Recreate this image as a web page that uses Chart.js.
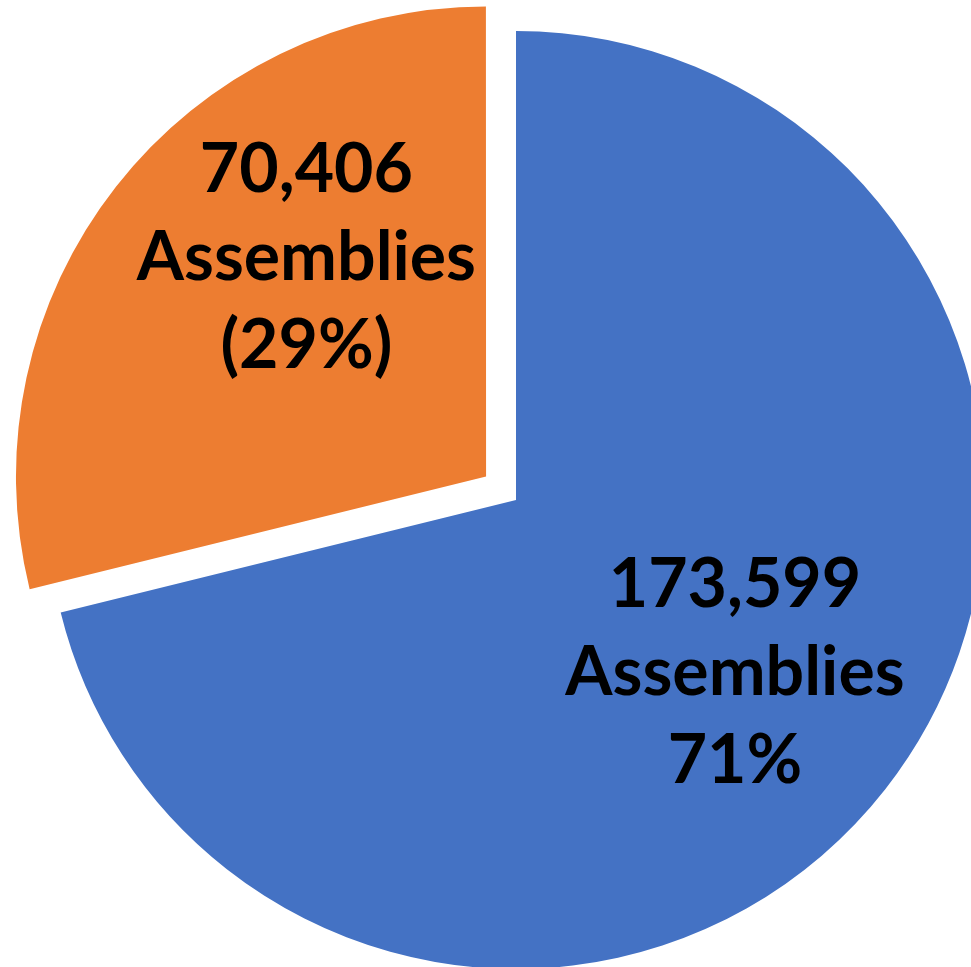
<!DOCTYPE html>
<html>
<head>
<meta charset="utf-8">
<script src="https://cdn.jsdelivr.net/npm/chart.js@4.4.0/dist/chart.umd.min.js"></script>
<style>
	html, body { margin: 0; padding: 0; background: #fff; }
	#wrap { width: 971px; height: 967px; position: relative; }
</style>
</head>
<body>
<div id="wrap"><canvas id="mycanvas"></canvas></div>
<script>
// data
var categories = ['Group A', 'Group B'];
var assemblies = [173599, 70406];
var labelLines = [
	['173,599', 'Assemblies', '71%'],
	['70,406', 'Assemblies', '(29%)']
];
var colors = ['#4472C4', '#ED7D31'];
var explode = [0, 38]; // pixels the slice is pulled out

// label placement (fraction of radius, extra angle in degrees)
var labelRadius = [0.593, 0.607];
var labelShift = [0, 12.8];

var pieLabels = {
	id: 'pieLabels',
	afterDatasetsDraw: function(chart) {
		var ctx = chart.ctx;
		var meta = chart.getDatasetMeta(0);
		ctx.save();
		ctx.fillStyle = '#000';
		ctx.font = 'bold 68px Lato';
		ctx.textAlign = 'center';
		ctx.textBaseline = 'alphabetic';
		meta.data.forEach(function(arc, i) {
			var p = arc.getProps(['x', 'y', 'startAngle', 'endAngle', 'outerRadius']);
			var mid = (p.startAngle + p.endAngle) / 2;
			var cx = p.x + Math.cos(mid) * explode[i];
			var cy = p.y + Math.sin(mid) * explode[i];
			var a = mid + labelShift[i] * Math.PI / 180;
			var r = p.outerRadius * labelRadius[i];
			var lx = cx + Math.cos(a) * r;
			var ly = cy + Math.sin(a) * r;
			var lines = labelLines[i];
			var step = 88;
			for (var j = 0; j < lines.length; j++) {
				var base = ly + 24 + (j - (lines.length - 1) / 2) * step;
				ctx.fillText(lines[j], lx, base);
			}
		});
		ctx.restore();
	}
};

new Chart(document.getElementById('mycanvas'), {
	type: 'pie',
	data: {
		labels: categories,
		datasets: [{
			data: assemblies,
			backgroundColor: colors,
			borderWidth: 0,
			// chart.js divides arc offset by 4 when drawing
			offset: explode.map(function(v) { return v * 4; }),
			radius: 469,
			clip: false
		}]
	},
	options: {
		responsive: true,
		maintainAspectRatio: false,
		animation: false,
		layout: { padding: { left: 61, top: 33, right: 0, bottom: 0 } },
		plugins: {
			legend: { display: false },
			tooltip: { enabled: false }
		}
	},
	plugins: [pieLabels]
});
</script>
</body>
</html>
